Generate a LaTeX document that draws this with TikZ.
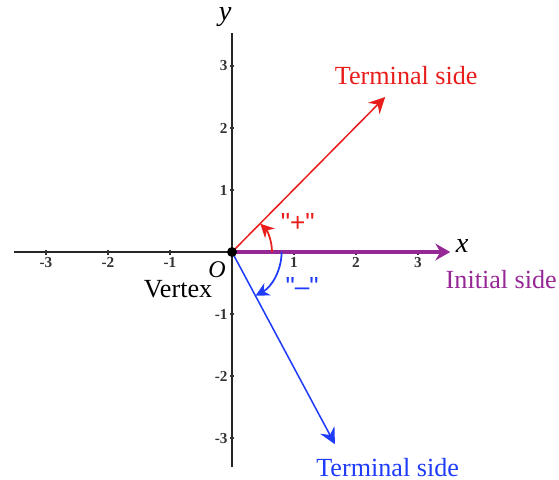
\documentclass[tikz,border=0pt]{standalone}
\usepackage{fontspec}
\setmainfont{Liberation Serif}
\setsansfont{Liberation Sans}
\usetikzlibrary{positioning,arrows.meta}
\definecolor{termred}{RGB}{232,30,28}
\definecolor{termblue}{RGB}{30,60,250}
\definecolor{initpurple}{RGB}{150,40,150}
\tikzset{
axisline/.style={black!85,line width=0.9pt},
ticklbl/.style={font=\fontsize{7}{8}\selectfont\bfseries,text=black!80,inner sep=1pt},
sidelbl/.style={font=\fontsize{12}{14}\selectfont,inner sep=0pt},
signlbl/.style={font=\sffamily\fontsize{12}{14}\selectfont,inner sep=0pt},
sidearrow/.style={-{Stealth[length=2.6mm,width=2.6mm,inset=0.9mm]},line width=0.7pt},
arcarrow/.style={-{Stealth[length=2.2mm,width=2.2mm,inset=0.7mm]},line width=0.8pt}
}
\begin{document}
\begin{tikzpicture}[x=1cm,y=1cm]
\useasboundingbox (-3.742,-3.661) rectangle (5.274,4.065);
% axes
\coordinate (O) at (0,0);
\coordinate (xl) at (-3.52,0);
\coordinate (xr) at (3.52,0);
\coordinate (yb) at (0,-3.47);
\coordinate (yt) at (0,3.53);
\draw[axisline] (xl) -- (O);
\draw[axisline] (yb) -- (yt);
\foreach \k in {-3,-2,-1,1,2,3}{
  \draw[black!80,line width=0.5pt] (\k,-0.04) -- (\k,0.04);
  \draw[black!80,line width=0.5pt] (-0.04,\k) -- (0.04,\k);
  \node[ticklbl] at (\k,-0.17) {\k};
  \node[ticklbl,anchor=east] at (-0.03,\k) {\k};
}
\draw[initpurple,line width=1.4pt,-{Stealth[length=2.4mm,width=2.7mm,inset=0.8mm]}] (O) -- (xr);
% sides
\coordinate (tred) at (2.47,2.50);
\coordinate (tblue) at (1.66,-3.10);
\draw[termred,sidearrow] (O) -- (tred);
\draw[termblue,sidearrow] (O) -- (tblue);
% angle arcs
\draw[termred,arcarrow] (0.645,0) arc[start angle=0,end angle=45,radius=0.645];
\draw[termblue,arcarrow] (0.80,0) arc[start angle=0,end angle=-61.8,radius=0.80];
\fill[black] (O) circle (0.08);
% labels
\node[font=\itshape\fontsize{13}{15}\selectfont,inner sep=0pt] (xlbl) at (3.71,0.10) {x};
\node[font=\itshape\fontsize{13}{15}\selectfont,inner sep=0pt] (ylbl) at (-0.11,3.79) {y};
\node[font=\itshape\fontsize{11}{13}\selectfont,inner sep=0pt] (olbl) at (-0.24,-0.28) {O};
\node[sidelbl] (vtx) at (-0.87,-0.60) {Vertex};
\node[sidelbl,text=initpurple,anchor=west] (init) at (3.44,-0.45) {Initial side};
\node[sidelbl,text=termred] (tredlbl) at (2.81,2.85) {Terminal side};
\node[sidelbl,text=termblue] (tbluelbl) at (2.51,-3.48) {Terminal side};
\node[signlbl,text=termred] (plus) at (1.06,0.48) {\textquotedbl+\textquotedbl};
\node[signlbl,text=termblue] (minus) at (1.13,-0.56) {\textquotedbl–\textquotedbl};
\end{tikzpicture}
\end{document}
